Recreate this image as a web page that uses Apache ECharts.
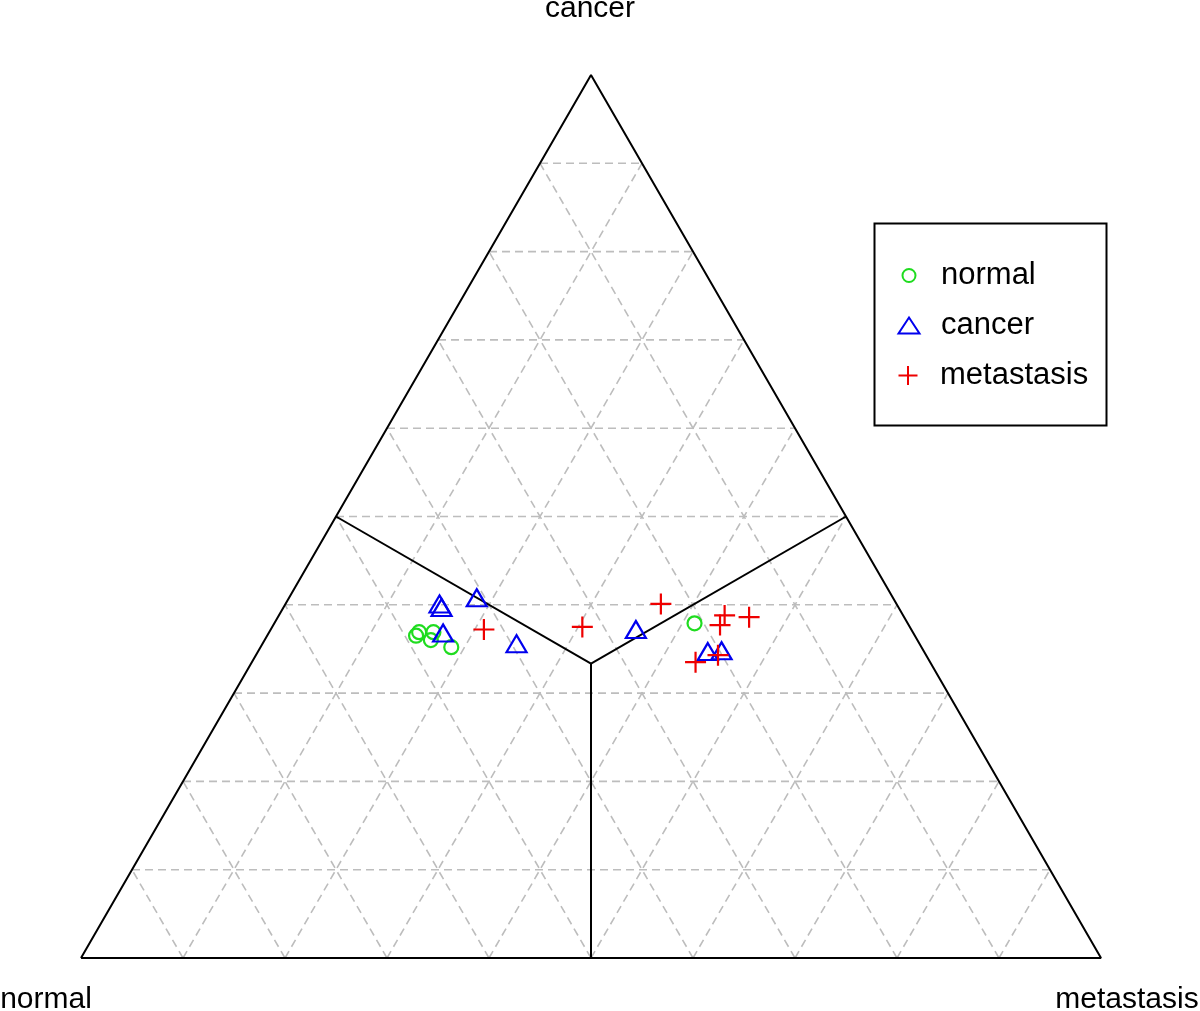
<!DOCTYPE html>
<html>
<head>
<meta charset="utf-8">
<script src="https://cdn.jsdelivr.net/npm/echarts@6/dist/echarts.min.js"></script>
<style>html,body{margin:0;padding:0;background:#fff;}#chart{width:1200px;height:1011px;}</style>
</head>
<body>
<div id="chart"></div>
<script>
// Axis (vertex) labels
const vertexLabels = ['normal', 'cancer', 'metastasis'];
// Group names
const groups = ['normal', 'cancer', 'metastasis'];
// Ternary compositions [normal, cancer, metastasis] per sample
const normalPts = [
  [0.489, 0.365, 0.146],
  [0.484, 0.369, 0.147],
  [0.470, 0.369, 0.161],
  [0.477, 0.360, 0.163],
  [0.461, 0.352, 0.187],
  [0.209, 0.379, 0.412]
];
const cancerPts = [
  [0.448, 0.401, 0.151],
  [0.448, 0.397, 0.155],
  [0.408, 0.408, 0.184],
  [0.461, 0.368, 0.171],
  [0.395, 0.356, 0.249],
  [0.270, 0.372, 0.358],
  [0.212, 0.347, 0.441],
  [0.198, 0.348, 0.454]
];
const metastasisPts = [
  [0.419, 0.372, 0.209],
  [0.321, 0.375, 0.304],
  [0.231, 0.401, 0.368],
  [0.175, 0.388, 0.437],
  [0.152, 0.386, 0.462],
  [0.185, 0.377, 0.438],
  [0.204, 0.343, 0.453],
  [0.230, 0.335, 0.435]
];
const gridSteps = [0.1, 0.2, 0.3, 0.4, 0.5, 0.6, 0.7, 0.8, 0.9];

const colors = { normal: '#1fdc1f', cancer: '#0000ee', metastasis: '#ee0000' };
const FONT = 'Liberation Sans, Arial, Helvetica, sans-serif';

// ternary -> cartesian (x: m + c/2, y: c)
function tern(p) {
  const s = p[0] + p[1] + p[2];
  const c = p[1] / s, m = p[2] / s;
  return [m + c / 2, c];
}

const series = [];
// dashed grid lines
gridSteps.forEach(function (k) {
  const segs = [
    [[1 - k, k, 0], [0, k, 1 - k]],       // constant cancer
    [[1 - k, 0, k], [0, 1 - k, k]],       // constant metastasis
    [[k, 0, 1 - k], [k, 1 - k, 0]]        // constant normal
  ];
  segs.forEach(function (sg) {
    series.push({
      type: 'line', silent: true, symbol: 'none', z: 1,
      data: sg.map(tern),
      lineStyle: { color: '#bdbdbd', width: 1.6, type: [8, 5] }
    });
  });
});
// outline
series.push({
  type: 'line', silent: true, symbol: 'none', z: 2,
  data: [[1, 0, 0], [0, 0, 1], [0, 1, 0], [1, 0, 0]].map(tern),
  lineStyle: { color: '#000', width: 2 }
});
// region boundaries from the centroid
const centroid = [1 / 3, 1 / 3, 1 / 3];
[[0.5, 0, 0.5], [0.5, 0.5, 0], [0, 0.5, 0.5]].forEach(function (mid) {
  series.push({
    type: 'line', silent: true, symbol: 'none', z: 2,
    data: [centroid, mid].map(tern),
    lineStyle: { color: '#000', width: 2 }
  });
});

const plusPath = 'path://M10,0 L10,20 M0,10 L20,10';
series.push({
  name: groups[0], type: 'scatter', z: 5,
  symbol: 'circle', symbolSize: 14,
  data: normalPts.map(tern),
  itemStyle: { color: 'rgba(0,0,0,0)', borderColor: colors.normal, borderWidth: 2.2, opacity: 1 }
});
series.push({
  name: groups[1], type: 'scatter', z: 5,
  symbol: 'triangle', symbolSize: [20, 17],
  data: cancerPts.map(tern),
  itemStyle: { color: 'rgba(0,0,0,0)', borderColor: colors.cancer, borderWidth: 2.2, opacity: 1 }
});
series.push({
  name: groups[2], type: 'scatter', z: 5,
  symbol: plusPath, symbolSize: 21,
  data: metastasisPts.map(tern),
  itemStyle: { color: 'rgba(0,0,0,0)', borderColor: colors.metastasis, borderWidth: 2.2, opacity: 1 }
});

function legendFor(name, icon, w, h, top) {
  return {
    left: 908 - w / 2, top: top, padding: 0, orient: 'vertical',
    itemWidth: w, itemHeight: h, selectedMode: false,
    data: [{ name: name, icon: icon,
      itemStyle: { color: 'rgba(0,0,0,0)', borderColor: colors[name], borderWidth: 2 } }],
    textStyle: { fontFamily: FONT, fontSize: 31, color: '#000',
      padding: [0, 0, 0, 940 - (908 + w / 2) - 5] }
  };
}

const chart = echarts.init(document.getElementById('chart'), null, { renderer: 'canvas' });
chart.setOption({
  backgroundColor: '#fff',
  animation: false,
  grid: { left: 81, top: 75, width: 1020, height: 883 },
  xAxis: { type: 'value', min: 0, max: 1, show: false },
  yAxis: { type: 'value', min: 0, max: 1, show: false },
  legend: [
    legendFor('normal', 'circle', 13, 13, 260),
    legendFor('cancer', 'triangle', 21, 16, 310),
    legendFor('metastasis', plusPath, 21, 19, 360)
  ],
  graphic: [
    { type: 'rect', left: 872, top: 221, z: 0,
      shape: { width: 232, height: 202 },
      style: { fill: 'none', stroke: '#000', lineWidth: 2 } },
    { type: 'text', x: 590, y: 9, style: { text: vertexLabels[1], font: '30px ' + FONT, fill: '#000', align: 'center', verticalAlign: 'middle' } },
    { type: 'text', x: 46, y: 1000, style: { text: vertexLabels[0], font: '30px ' + FONT, fill: '#000', align: 'center', verticalAlign: 'middle' } },
    { type: 'text', x: 1127, y: 1000, style: { text: vertexLabels[2], font: '30px ' + FONT, fill: '#000', align: 'center', verticalAlign: 'middle' } }
  ],
  series: series
});
</script>
</body>
</html>
